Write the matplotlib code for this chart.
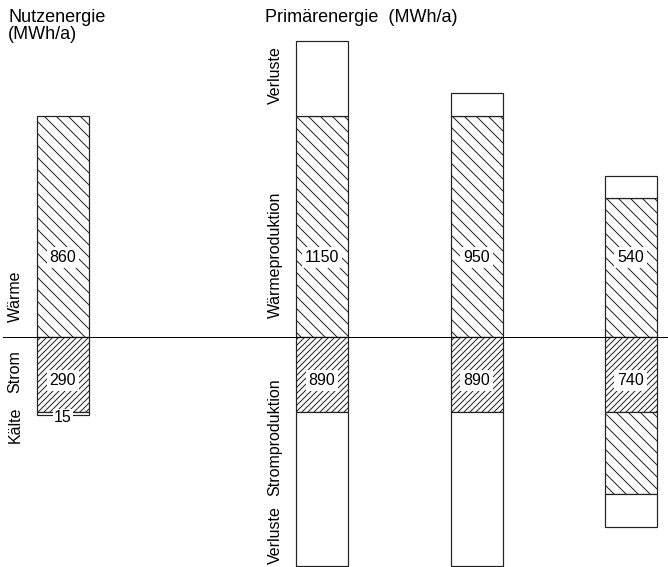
import matplotlib
matplotlib.use("Agg")
import matplotlib.pyplot as plt

plt.rcParams['font.family'] = ['Liberation Sans', 'DejaVu Sans']

# Nutzenergie (MWh/a)
nutz_waerme = 860
nutz_strom = 290
nutz_kaelte = 15

# Primaerenergie (MWh/a), three variants
prim_waerme_nutz = [860, 860, 540]      # hatched heat part
prim_waerme_verl = [290, 90, 85]        # white losses on top
prim_waerme_label = [1150, 950, 540]
prim_strom_nutz = [290, 290, 290]       # fine hatched power part
prim_strom_waerme = [0, 0, 320]         # heat produced below the line
prim_strom_verl = [600, 600, 130]       # white losses below
prim_strom_label = [890, 890, 740]

# figure in pixel units (dpi 72 -> 1pt = 1px)
fig = plt.figure(figsize=(668/72, 567/72), dpi=72)
ax = fig.add_axes([0, 0, 1, 1])
px = 1/0.257   # MWh per pixel
ax.set_xlim(0, 668)
ax.set_ylim(-(567-337)*px, 337*px)
ax.axis('off')

w = 52
x_nutz = 63
x_prim = [322, 476.5, 630.5]
ec = '#222222'
h_w = '\\\\'     # heat hatch
h_s = '////'     # power hatch

# Nutzenergie bar
ax.bar(x_nutz, nutz_waerme, w, bottom=0, color='white', edgecolor=ec, hatch=h_w, lw=1.2)
ax.bar(x_nutz, -nutz_strom, w, bottom=0, color='white', edgecolor=ec, hatch=h_s, lw=1.2)
ax.bar(x_nutz, -nutz_kaelte, w, bottom=-nutz_strom, color='white', edgecolor=ec, lw=1.2)

# Primaerenergie bars
for i in range(3):
    x = x_prim[i]
    ax.bar(x, prim_waerme_nutz[i], w, bottom=0, color='white', edgecolor=ec, hatch=h_w, lw=1.2)
    ax.bar(x, prim_waerme_verl[i], w, bottom=prim_waerme_nutz[i], color='white', edgecolor=ec, lw=1.2)
    ax.bar(x, -prim_strom_nutz[i], w, bottom=0, color='white', edgecolor=ec, hatch=h_s, lw=1.2)
    b = -prim_strom_nutz[i]
    if prim_strom_waerme[i] > 0:
        ax.bar(x, -prim_strom_waerme[i], w, bottom=b, color='white', edgecolor=ec, hatch=h_w, lw=1.2)
        b -= prim_strom_waerme[i]
    ax.bar(x, -prim_strom_verl[i], w, bottom=b, color='white', edgecolor=ec, lw=1.2)

# baseline
ax.axhline(0, xmin=3/668, xmax=1, color='black', lw=1)

# value labels
box = dict(facecolor='white', edgecolor='none', pad=3)
ax.text(x_nutz, 311, str(nutz_waerme), ha='center', va='center', fontsize=16, bbox=box, zorder=5)
ax.text(x_nutz, -171, str(nutz_strom), ha='center', va='center', fontsize=16, bbox=box, zorder=5)
ax.text(x_nutz, -305 - 10, str(nutz_kaelte), ha='center', va='center', fontsize=16,
        bbox=dict(facecolor='white', edgecolor='none', pad=1), zorder=5)
for i in range(3):
    ax.text(x_prim[i], 311, str(prim_waerme_label[i]), ha='center', va='center', fontsize=16, bbox=box, zorder=5)
    ax.text(x_prim[i], -171, str(prim_strom_label[i]), ha='center', va='center', fontsize=16, bbox=box, zorder=5)

# rotated category labels
for label, y in [('Wärme', 160), ('Strom', -136), ('Kälte', -342)]:
    ax.text(15, y, label, rotation=90, ha='center', va='center', fontsize=16)
for label, y in [('Verluste', 1019), ('Wärmeproduktion', 319), ('Stromproduktion', -389), ('Verluste', -770)]:
    ax.text(275, y, label, rotation=90, ha='center', va='center', fontsize=16)

# headings
fig.text(8/668, 1 - 9/567, 'Nutzenergie\n(MWh/a)', ha='left', va='top', fontsize=18, linespacing=1.0)
fig.text(265/668, 1 - 9/567, 'Primärenergie  (MWh/a)', ha='left', va='top', fontsize=18)

fig.savefig('out.png', dpi=72)
